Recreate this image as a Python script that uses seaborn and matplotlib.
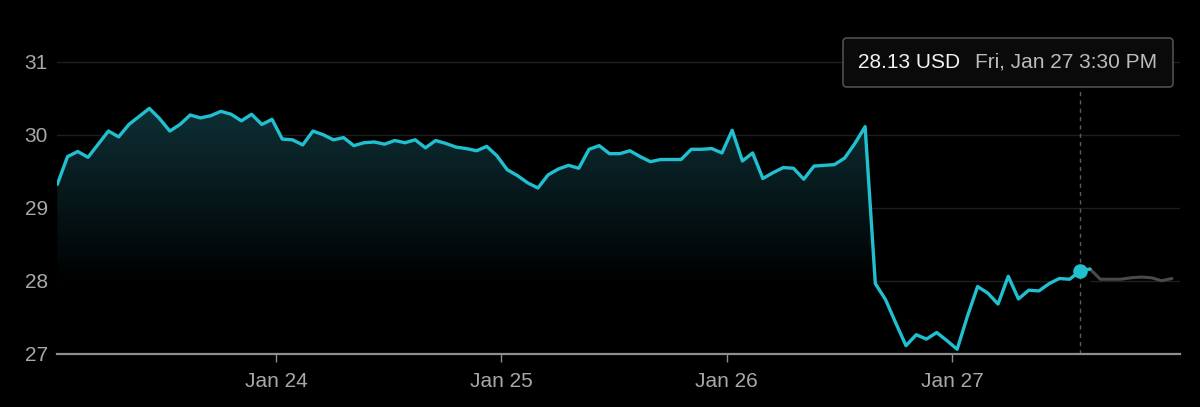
import pandas as pd
import matplotlib.pyplot as plt
import matplotlib.dates as mdates
from matplotlib.patches import FancyBboxPatch
from matplotlib.colors import LinearSegmentedColormap
import numpy as np
import seaborn as sns

# price samples (USD), roughly one per hour
prices = [
    29.32, 29.70, 29.77, 29.69, 29.87, 30.05, 29.97, 30.14, 30.25, 30.36,
    30.22, 30.05, 30.14, 30.27, 30.23, 30.26, 30.32, 30.28, 30.19, 30.28,
    30.14, 30.21, 29.94, 29.93, 29.86, 30.05, 30.00, 29.93, 29.96, 29.85,
    29.89, 29.90, 29.87, 29.92, 29.89, 29.93, 29.82, 29.92, 29.88, 29.83,
    29.81, 29.78, 29.84, 29.71, 29.52, 29.44, 29.34, 29.27, 29.45, 29.53,
    29.58, 29.54, 29.80, 29.85, 29.74, 29.74, 29.78, 29.70, 29.63, 29.66,
    29.66, 29.66, 29.80, 29.80, 29.81, 29.75, 30.06, 29.64, 29.75, 29.40,
    29.48, 29.55, 29.54, 29.39, 29.57, 29.58, 29.59, 29.68, 29.88, 30.11,
    27.96, 27.74, 27.42, 27.11, 27.26, 27.20, 27.29, 27.18, 27.06, 27.51,
    27.92, 27.83, 27.68, 28.06, 27.75, 27.87, 27.86, 27.96, 28.03, 28.02,
    28.13, 28.16, 28.02, 28.02, 28.02, 28.04, 28.05, 28.04, 28.00, 28.03,
]
first_time = '2023-01-23 00:42'
last_time = '2023-01-27 23:26'
hover_idx = 100
hover_price = '28.13 USD'
hover_time = 'Fri, Jan 27 3:30 PM'

y_ticks = [27, 28, 29, 30, 31]
x_ticks = ['2023-01-24', '2023-01-25', '2023-01-26', '2023-01-27']
x_tick_labels = ['Jan 24', 'Jan 25', 'Jan 26', 'Jan 27']

CYAN = '#20c0d0'

df = pd.DataFrame({
    'time': pd.date_range(first_time, last_time, periods=len(prices)),
    'price': prices,
})
live = df.iloc[:hover_idx + 2]
after = df.iloc[hover_idx + 1:]

sns.set_theme(style='dark', rc={'axes.facecolor': 'black', 'figure.facecolor': 'black'})
plt.rcParams['font.family'] = ['Liberation Sans', 'DejaVu Sans']

fig = plt.figure(figsize=(12, 4.07), dpi=100)
ax = fig.add_axes([57 / 1200, (407 - 353.7) / 407, (1180 - 57) / 1200, 353.7 / 407])

# gradient under the line, teal fading to black around 28
poly = ax.fill_between(live['time'], live['price'], 27, color='none', lw=0)
cmap = LinearSegmentedColormap.from_list('fade', ['#000000', '#0e3036'])
grad = np.linspace(0, 1, 256).reshape(-1, 1)
t0, t1 = mdates.date2num(df['time'].iloc[0]), mdates.date2num(df['time'].iloc[-1])
im = ax.imshow(grad, extent=[t0, t1, 27.95, 30.4], aspect='auto', cmap=cmap,
               origin='lower', zorder=1)
im.set_clip_path(poly.get_paths()[0], transform=ax.transData)

sns.lineplot(data=after, x='time', y='price', color='#4a4a4a', lw=2.2, ax=ax, zorder=3)
sns.lineplot(data=live, x='time', y='price', color=CYAN, lw=2.4, ax=ax, zorder=4)

t_hover = df['time'].iloc[hover_idx]
ax.plot([t_hover, t_hover], [27, 30.64], ls=(0, (3, 3)), color='#5c5c5c', lw=1, zorder=2)
ax.scatter([t_hover], [df['price'].iloc[hover_idx]], s=110, color=CYAN, zorder=5, lw=0)

ax.set_xlim(pd.Timestamp('2023-01-23 00:40'), pd.Timestamp('2023-01-28 00:18'))
ax.set_ylim(27, 31.845)
ax.set_yticks(y_ticks)
ax.set_yticklabels([str(v) for v in y_ticks])
ax.set_xticks(pd.to_datetime(x_ticks))
ax.set_xticklabels(x_tick_labels)
ax.set_xlabel('')
ax.set_ylabel('')

ax.yaxis.grid(True, color='#1e1e1e', lw=1)
ax.xaxis.grid(False)
for side in ['top', 'right', 'left']:
    ax.spines[side].set_visible(False)
ax.spines['bottom'].set_color('#8e8e8e')
ax.spines['bottom'].set_linewidth(1.6)
ax.spines['bottom'].set_zorder(6)

ax.tick_params(axis='y', length=0, pad=6.5, labelsize=15, labelcolor='#a8a8a8')
ax.tick_params(axis='x', length=6, width=1, color='#8e8e8e', direction='out',
               pad=7.5, labelsize=15, labelcolor='#a8a8a8', bottom=True)

# hover tooltip
box = FancyBboxPatch((8.43, (407 - 87) / 100), 3.30, 0.49,
                     boxstyle='round,pad=0,rounding_size=0.04',
                     transform=fig.dpi_scale_trans, fc='#0a0a0a', ec='#4e4e4e', lw=1.2)
fig.patches.append(box)
fig.text(858 / 1200, 1 - 62 / 407, hover_price, color='#f2f2f2', fontsize=15, va='center')
fig.text(975 / 1200, 1 - 62 / 407, hover_time, color='#bcbcbc', fontsize=15, va='center')

fig.savefig('out.png', dpi=100, facecolor='black')
